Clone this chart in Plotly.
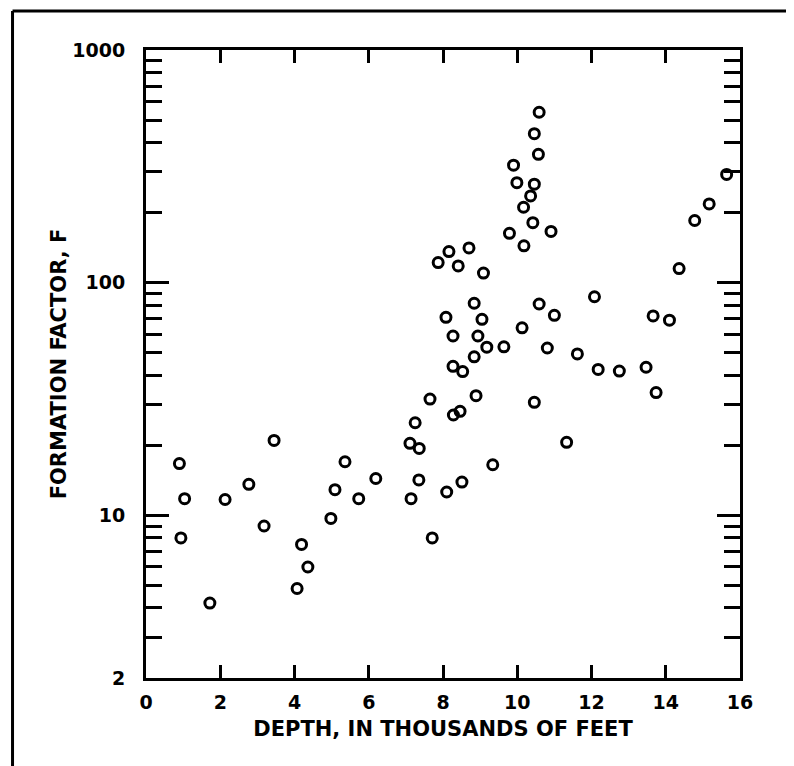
import plotly.graph_objects as go

# Depth (thousands of feet) and formation factor F
depth = [3.45, 0.90, 5.36, 2.77, 5.09, 1.04, 2.13, 4.98, 3.18, 0.94,
         4.19, 4.36, 4.07, 1.72, 6.19, 5.73, 7.14, 7.35, 8.10, 8.51,
         7.71, 7.25, 7.11, 7.36, 7.65, 8.89, 10.46, 13.74, 11.33, 9.34,
         8.28, 8.46, 9.79, 10.91, 10.18, 8.16, 8.70, 7.87, 8.41, 9.09,
         8.84, 10.59, 11.00, 8.08, 9.05, 10.13, 8.27, 8.94, 9.18, 9.64,
         10.81, 8.84, 8.27, 8.53, 10.59, 10.46, 10.57, 9.90, 9.99, 10.46,
         10.36, 10.17, 10.42, 12.08, 11.62, 12.18, 12.75, 15.64, 15.17, 14.78,
         14.36, 13.66, 14.10, 13.47]
formation_factor = [21.0, 16.7, 17.0, 13.6, 12.9, 11.8, 11.7, 9.7, 9.0, 8.0,
                    7.5, 6.0, 4.85, 4.2, 14.4, 11.8, 11.8, 14.2, 12.6, 13.9,
                    8.0, 25.0, 20.4, 19.4, 31.6, 32.7, 30.6, 33.7, 20.6, 16.5,
                    27.0, 28.0, 163, 166, 144, 136, 141, 122, 118, 110,
                    81.6, 81.0, 72.4, 71.0, 69.6, 64.0, 59.0, 59.0, 52.8, 53.0,
                    52.4, 48.0, 43.7, 41.5, 540, 437, 356, 320, 269, 265,
                    236, 211, 181, 87.0, 49.4, 42.4, 41.7, 292, 218, 185,
                    115, 72.0, 69.0, 43.3]

x_tick_vals = [0, 2, 4, 6, 8, 10, 12, 14, 16]
x_tick_text = ["0", "2", "4", "6", "8", "10", "12", "14", "16"]
y_tick_vals = [2, 10, 100, 1000]
y_tick_text = ["2", "10", "100", "1000"]
y_minor_vals = [3, 4, 5, 6, 7, 8, 9, 20, 30, 40, 50, 60, 70, 80, 90,
                200, 300, 400, 500, 600, 700, 800, 900]

FONT = "DejaVu Sans"

fig = go.Figure()
fig.add_trace(go.Scatter(
    x=depth, y=formation_factor, mode="markers",
    marker=dict(symbol="circle-open", size=10, color="black",
                line=dict(width=3, color="black")),
    showlegend=False, hoverinfo="x+y",
))

fig.update_layout(
    width=786, height=758, autosize=False,
    margin=dict(l=138, r=54, t=42, b=88),
    paper_bgcolor="white", plot_bgcolor="white",
    font=dict(family=FONT, color="black"),
    shapes=[
        dict(type="line", xref="paper", yref="paper", x0=-0.2247, x1=-0.2247,
             y0=-0.2, y1=1.0621, line=dict(color="black", width=3)),
        dict(type="line", xref="paper", yref="paper", x0=-0.2247, x1=1.0808,
             y0=1.0621, y1=1.0621, line=dict(color="black", width=3)),
        dict(type="line", xref="paper", yref="paper", x0=1.0808, x1=1.0808,
             y0=-0.2, y1=1.0621, line=dict(color="black", width=3)),
    ],
)

fig.update_xaxes(
    range=[0, 16], tickmode="array", tickvals=x_tick_vals, ticktext=x_tick_text,
    ticks="inside", ticklen=13, tickwidth=2.5, tickcolor="black",
    showline=True, linecolor="black", linewidth=3, mirror="ticks",
    showgrid=False, zeroline=False,
    tickfont=dict(family=FONT, size=19, color="black", weight="bold"),
    ticklabelstandoff=5,
    title=dict(text="DEPTH, IN THOUSANDS OF FEET",
               font=dict(family=FONT, size=21, color="black", weight="bold"),
               standoff=10),
)

fig.update_yaxes(
    type="log", range=[0.30103, 3], tickmode="array",
    tickvals=y_tick_vals, ticktext=y_tick_text,
    ticks="inside", ticklen=23, tickwidth=2.5, tickcolor="black",
    minor=dict(tickmode="array", tickvals=y_minor_vals, ticks="inside",
               ticklen=16, tickwidth=2.5, tickcolor="black", showgrid=False),
    showline=True, linecolor="black", linewidth=3, mirror="ticks",
    showgrid=False, zeroline=False,
    tickfont=dict(family=FONT, size=19, color="black", weight="bold"),
    ticklabelstandoff=14,
    title=dict(text="FORMATION FACTOR, F",
               font=dict(family=FONT, size=21, color="black", weight="bold"),
               standoff=0),
)

fig.write_html("out.html")
